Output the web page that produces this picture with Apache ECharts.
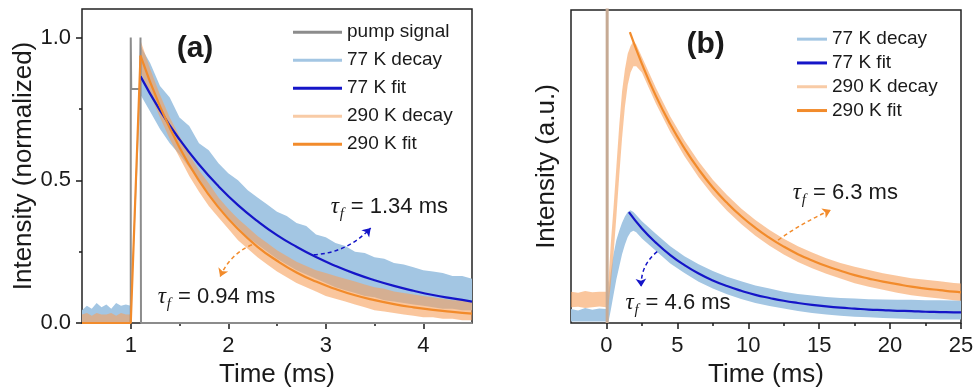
<!DOCTYPE html>
<html>
<head>
<meta charset="utf-8">
<script src="https://cdn.jsdelivr.net/npm/echarts@6/dist/echarts.min.js"></script>
<style>
  html, body { margin: 0; padding: 0; background: #fff; }
  #chart { width: 974px; height: 387px; }
</style>
</head>
<body>
<div id="chart"></div>
<script>
// ---------- Panel (a): normalized decays, 0.5 – 4.5 ms ----------
const pumpTimeA   = [0.5, 1.0, 1.0, 1.005, 1.095, 1.1, 1.105, 4.5];
const pumpSignalA = [0,   0,   1.0, 0.82,  0.82,  1.0, 0,     0];

const decayTimeA = [0.5, 0.55, 0.6, 0.65, 0.7, 0.75, 0.8, 0.85, 0.9, 0.95, 1.0,
  1.1, 1.2, 1.3, 1.4, 1.5, 1.6, 1.7, 1.8, 1.9, 2.0, 2.1, 2.2, 2.3, 2.4, 2.5,
  2.6, 2.7, 2.8, 2.9, 3.0, 3.1, 3.2, 3.3, 3.4, 3.5, 3.6, 3.7, 3.8, 3.9, 4.0,
  4.1, 4.2, 4.3, 4.4, 4.5];
const decay77LowA = [0, 0, 0, 0, 0, 0, 0, 0, 0, 0, 0,
  0.80, 0.74, 0.68, 0.63, 0.59, 0.545, 0.50, 0.455, 0.41, 0.37, 0.335, 0.30, 0.275, 0.25, 0.225,
  0.205, 0.185, 0.17, 0.155, 0.14, 0.125, 0.115, 0.105, 0.095, 0.09, 0.08, 0.075, 0.07, 0.065, 0.06,
  0.055, 0.05, 0.05, 0.045, 0.045];
const decay77HighA = [0.045, 0.06, 0.05, 0.07, 0.055, 0.065, 0.05, 0.07, 0.06, 0.065, 0.06,
  0.97, 0.91, 0.83, 0.79, 0.72, 0.69, 0.63, 0.605, 0.56, 0.525, 0.50, 0.465, 0.44, 0.415, 0.39,
  0.375, 0.35, 0.34, 0.31, 0.30, 0.28, 0.27, 0.25, 0.245, 0.23, 0.225, 0.21, 0.205, 0.195, 0.185,
  0.18, 0.175, 0.165, 0.165, 0.155];
const decay290LowA = [0, 0, 0, 0, 0, 0, 0, 0, 0, 0, 0,
  0.88, 0.80, 0.72, 0.645, 0.58, 0.515, 0.46, 0.41, 0.37, 0.33, 0.29, 0.26, 0.23, 0.205, 0.18,
  0.16, 0.14, 0.125, 0.11, 0.095, 0.085, 0.075, 0.065, 0.055, 0.045, 0.04, 0.035, 0.03, 0.025, 0.02,
  0.02, 0.015, 0.015, 0.01, 0.01];
const decay290HighA = [0.03, 0.035, 0.025, 0.035, 0.03, 0.03, 0.035, 0.025, 0.035, 0.03, 0.03,
  0.99, 0.89, 0.80, 0.72, 0.655, 0.59, 0.535, 0.49, 0.44, 0.40, 0.365, 0.335, 0.305, 0.28, 0.255,
  0.235, 0.215, 0.20, 0.185, 0.175, 0.165, 0.155, 0.145, 0.135, 0.125, 0.12, 0.11, 0.105, 0.10, 0.095,
  0.09, 0.085, 0.08, 0.08, 0.075];

const fitTimeA = [1.1, 1.3, 1.5, 1.7, 1.9, 2.1, 2.3, 2.5, 2.7, 2.9, 3.1, 3.3, 3.5, 3.7, 3.9, 4.1, 4.3, 4.5];
const fit77A   = [0.864, 0.745, 0.643, 0.555, 0.479, 0.413, 0.357, 0.308, 0.267, 0.231, 0.200, 0.173, 0.150, 0.130, 0.113, 0.098, 0.086, 0.075];
const fit290A  = [0.937, 0.759, 0.615, 0.499, 0.405, 0.329, 0.267, 0.218, 0.177, 0.145, 0.119, 0.097, 0.080, 0.066, 0.055, 0.046, 0.039, 0.033];
const riseTime290A = [0.5, 1.0, 1.1];
const rise290A     = [0,   0,   0.937];

// ---------- Panel (b): decays in arbitrary units, -2.5 – 25 ms ----------
const spikeTimeB = [0.05, 0.05];
const spikeB     = [0.0, 1.05];

const decayTimeB = [-2.5, -2, -1.5, -1, -0.5, 0,
  0.15, 0.3, 0.5, 0.7, 0.9, 1.1, 1.3, 1.5, 1.7, 1.9, 2.1, 2.5,
  3.5, 4.5, 5.5, 6.5, 7.5, 8.5, 9.5, 10.5, 11.5, 12.5, 13.5, 14.5, 15.5, 16.5,
  17.5, 18.5, 19.5, 20.5, 21.5, 22.5, 23.5, 24.5, 25];
const decay290LowB = [0.05, 0.052, 0.048, 0.05, 0.053, 0.05,
  0.06, 0.12, 0.22, 0.34, 0.47, 0.59, 0.69, 0.76, 0.80, 0.82, 0.82, 0.80,
  0.70, 0.61, 0.533, 0.466, 0.408, 0.359, 0.316, 0.279, 0.247, 0.219, 0.195, 0.175, 0.157, 0.142,
  0.127, 0.116, 0.106, 0.097, 0.089, 0.083, 0.078, 0.073, 0.071];
const decay290HighB = [0.10, 0.097, 0.102, 0.098, 0.10, 0.10,
  0.14, 0.25, 0.37, 0.50, 0.63, 0.74, 0.81, 0.86, 0.885, 0.90, 0.89, 0.85,
  0.75, 0.66, 0.583, 0.516, 0.458, 0.409, 0.366, 0.329, 0.297, 0.269, 0.245, 0.225, 0.207, 0.192,
  0.180, 0.169, 0.159, 0.151, 0.143, 0.138, 0.133, 0.128, 0.126];
const decay77LowB = [0.005, 0.005, 0.005, 0.005, 0.005, 0.005,
  0.005, 0.04, 0.09, 0.14, 0.18, 0.22, 0.25, 0.275, 0.29, 0.295, 0.29, 0.27,
  0.23, 0.19, 0.16, 0.132, 0.11, 0.092, 0.077, 0.064, 0.054, 0.046, 0.038, 0.032, 0.027, 0.023,
  0.02, 0.018, 0.016, 0.014, 0.013, 0.012, 0.011, 0.011, 0.011];
const decay77HighB = [0.045, 0.04, 0.048, 0.042, 0.046, 0.045,
  0.10, 0.16, 0.22, 0.265, 0.295, 0.32, 0.34, 0.355, 0.36, 0.355, 0.345, 0.325,
  0.284, 0.245, 0.213, 0.188, 0.166, 0.148, 0.133, 0.12, 0.11, 0.10, 0.093, 0.088, 0.083, 0.08,
  0.078, 0.076, 0.075, 0.074, 0.074, 0.073, 0.073, 0.072, 0.072];

const fitTime290B = [1.65, 2.5, 3.5, 4.5, 5.5, 6.5, 7.5, 8.5, 9.5, 10.5, 11.5, 12.5, 13.5, 14.5,
  15.5, 16.5, 17.5, 18.5, 19.5, 20.5, 21.5, 22.5, 23.5, 24.5, 25];
const fit290B = [0.929, 0.828, 0.724, 0.635, 0.558, 0.491, 0.433, 0.384, 0.341, 0.304, 0.272, 0.244, 0.220, 0.200,
  0.182, 0.167, 0.153, 0.142, 0.132, 0.124, 0.116, 0.110, 0.105, 0.100, 0.098];
const fitTime77B = [1.58, 2.5, 3.5, 4.5, 5.5, 6.5, 7.5, 8.5, 9.5, 10.5, 11.5, 12.5, 13.5, 14.5,
  15.5, 16.5, 17.5, 18.5, 19.5, 20.5, 21.5, 22.5, 23.5, 24.5, 25];
const fit77B = [0.354, 0.302, 0.256, 0.217, 0.185, 0.158, 0.136, 0.118, 0.103, 0.090, 0.080, 0.071, 0.064, 0.058,
  0.053, 0.049, 0.046, 0.043, 0.041, 0.039, 0.038, 0.036, 0.035, 0.034, 0.034];

// tick positions
const majorTicksA = [1, 2, 3, 4];
const minorTicksA = [1.5, 2.5, 3.5];
const yTicksA = [0, 0.5, 1.0];
const yMinorTicksA = [0.25, 0.75];
const majorTicksB = [0, 5, 10, 15, 20, 25];
const minorTicksB = [2.5, 7.5, 12.5, 17.5, 22.5];

// lifetime annotations and panel tags, in data coordinates
const tauNotes = [
  { axes: 0, at: [3.05, 0.407], text: ' = 1.34 ms' },
  { axes: 0, at: [1.278, 0.091], text: ' = 0.94 ms' },
  { axes: 2, at: [13.14, 0.415], text: ' = 6.3 ms' },
  { axes: 2, at: [1.34, 0.064], text: ' = 4.6 ms' }
];
const panelTags = [
  { axes: 0, at: [1.659, 0.962], text: '(a)' },
  { axes: 2, at: [6.99, 0.89], text: '(b)' }
];

const FONT = '"Liberation Sans", Arial, sans-serif';
const SERIF = '"Liberation Serif", "Times New Roman", serif';
const INK = '#1a1a1a';
const COLORS = {
  pump: '#8c8c8c',
  band77: '#a3c6e3',
  fit77: '#1515c8',
  band290: 'rgba(246,160,92,0.6)',
  band290Icon: '#f8cba6',
  fit290: '#f28b2b',
  spike: '#c6aa94'
};

const zip = (t, ...cols) => t.map((x, i) => [x, ...cols.map(c => c[i])]);

// filled band between a lower and an upper trace
function band(name, axes, time, lo, hi, fill, icon) {
  return {
    type: 'custom', name, xAxisIndex: axes, yAxisIndex: axes, clip: true, silent: true,
    data: zip(time, lo, hi),
    encode: { x: 0, y: [1, 2] },
    itemStyle: { color: icon },
    renderItem(params, api) {
      if (params.dataIndexInside !== 0) return null;
      const n = params.dataInsideLength;
      const top = [], bottom = [];
      for (let i = 0; i < n; i++) {
        const x = api.value(0, i);
        top.push(api.coord([x, api.value(2, i)]));
        bottom.push(api.coord([x, api.value(1, i)]));
      }
      return { type: 'polygon', shape: { points: top.concat(bottom.reverse()) }, style: { fill } };
    }
  };
}

function curve(name, axes, time, vals, color, width, smooth) {
  return {
    type: 'line', name, xAxisIndex: axes, yAxisIndex: axes, silent: true,
    data: zip(time, vals), symbol: 'none', smooth: smooth,
    lineStyle: { color, width }, itemStyle: { color }
  };
}

function arrow(axes, from, to, color, curveness) {
  return {
    type: 'lines', coordinateSystem: 'cartesian2d', xAxisIndex: axes, yAxisIndex: axes, silent: true,
    symbol: ['none', 'arrow'], symbolSize: 8,
    lineStyle: { color, width: 1.5, type: [4, 3], curveness, opacity: 1 },
    data: [{ coords: [from, to] }]
  };
}

const tickStyle = { color: INK, width: 1.5 };
const labelStyle = { color: INK, fontSize: 22, fontFamily: FONT };
const nameStyle = { color: INK, fontSize: 26, fontFamily: FONT };

function xMain(grid, min, max, ticks, name) {
  return {
    type: 'value', gridIndex: grid, min, max, position: 'bottom',
    axisLine: { show: false }, splitLine: { show: false },
    axisTick: { show: true, customValues: ticks, length: 6, lineStyle: tickStyle },
    axisLabel: { customValues: ticks, margin: 12, ...labelStyle },
    name, nameLocation: 'middle', nameGap: 38, nameTextStyle: nameStyle
  };
}
function xMinor(grid, min, max, ticks) {
  return {
    type: 'value', gridIndex: grid, min, max, position: 'bottom',
    axisLine: { show: false }, splitLine: { show: false }, axisLabel: { show: false },
    axisTick: { show: true, customValues: ticks, length: 3, lineStyle: tickStyle }
  };
}

const gridBase = { show: true, borderColor: '#222', borderWidth: 1.5, backgroundColor: 'transparent', outerBoundsMode: 'none', containLabel: false };

const option = {
  animation: false,
  backgroundColor: '#fff',
  grid: [
    { ...gridBase, left: 82, top: 9, width: 390, height: 314 },
    { ...gridBase, left: 571, top: 10, width: 390, height: 313 }
  ],
  xAxis: [
    xMain(0, 0.5, 4.5, majorTicksA, 'Time (ms)'),
    xMinor(0, 0.5, 4.5, minorTicksA),
    xMain(1, -2.5, 25, majorTicksB, 'Time (ms)'),
    xMinor(1, -2.5, 25, minorTicksB)
  ],
  yAxis: [
    {
      type: 'value', gridIndex: 0, min: 0, max: 1.1, position: 'left',
      axisLine: { show: false }, splitLine: { show: false },
      axisTick: { show: true, customValues: yTicksA, length: 6, lineStyle: tickStyle },
      axisLabel: { customValues: yTicksA, margin: 11, formatter: v => v.toFixed(1), ...labelStyle },
      name: 'Intensity (normalized)', nameLocation: 'middle', nameGap: 43, nameTextStyle: nameStyle
    },
    {
      type: 'value', gridIndex: 0, min: 0, max: 1.1, position: 'left',
      axisLine: { show: false }, splitLine: { show: false }, axisLabel: { show: false },
      axisTick: { show: true, customValues: yMinorTicksA, length: 3, lineStyle: tickStyle }
    },
    {
      type: 'value', gridIndex: 1, min: 0, max: 1, position: 'left',
      axisLine: { show: false }, splitLine: { show: false }, axisLabel: { show: false }, axisTick: { show: false },
      name: 'Intensity (a.u.)', nameLocation: 'middle', nameGap: 11, nameTextStyle: nameStyle
    },
    {
      type: 'value', gridIndex: 1, min: 0, max: 1, show: false
    }
  ],
  legend: [
    {
      orient: 'vertical', left: 293, top: 21, itemWidth: 49, itemHeight: 3, itemGap: 5.5,
      selectedMode: false, padding: 0,
      textStyle: { color: INK, fontSize: 19, lineHeight: 22.5, fontFamily: FONT },
      data: [
        { name: 'pump signal', icon: 'rect', itemStyle: { color: COLORS.pump } },
        { name: '77 K decay', icon: 'rect', itemStyle: { color: COLORS.band77 } },
        { name: '77 K fit', icon: 'rect', itemStyle: { color: COLORS.fit77 } },
        { name: '290 K decay', icon: 'rect', itemStyle: { color: COLORS.band290Icon } },
        { name: '290 K fit', icon: 'rect', itemStyle: { color: COLORS.fit290 } }
      ]
    },
    {
      orient: 'vertical', left: 797, top: 29, itemWidth: 30, itemHeight: 3, itemGap: 3.5,
      selectedMode: false, padding: 0,
      textStyle: { color: INK, fontSize: 19, lineHeight: 20.3, fontFamily: FONT },
      data: [
        { name: '77 K decay', icon: 'rect', itemStyle: { color: COLORS.band77 } },
        { name: '77 K fit', icon: 'rect', itemStyle: { color: COLORS.fit77 } },
        { name: '290 K decay', icon: 'rect', itemStyle: { color: COLORS.band290Icon } },
        { name: '290 K fit', icon: 'rect', itemStyle: { color: COLORS.fit290 } }
      ]
    }
  ],
  series: [
    // panel (a)
    band('77 K decay', 0, decayTimeA, decay77LowA, decay77HighA, COLORS.band77, COLORS.band77),
    band('290 K decay', 0, decayTimeA, decay290LowA, decay290HighA, COLORS.band290, COLORS.band290Icon),
    curve('pump signal', 0, pumpTimeA, pumpSignalA, COLORS.pump, 2, false),
    curve('77 K fit', 0, fitTimeA, fit77A, COLORS.fit77, 2.2, true),
    curve('290 K fit', 0, riseTime290A, rise290A, COLORS.fit290, 2.2, false),
    curve('290 K fit', 0, fitTimeA, fit290A, COLORS.fit290, 2.2, true),
    arrow(0, [2.877, 0.239], [3.461, 0.333], COLORS.fit77, -0.2),
    arrow(0, [2.243, 0.274], [1.917, 0.162], COLORS.fit290, -0.2),
    // panel (b)
    band('77 K decay', 2, decayTimeB, decay77LowB, decay77HighB, COLORS.band77, COLORS.band77),
    band('290 K decay', 2, decayTimeB, decay290LowB, decay290HighB, COLORS.band290, COLORS.band290Icon),
    curve('excitation', 2, spikeTimeB, spikeB, COLORS.spike, 3, false),
    curve('77 K fit', 2, fitTime77B, fit77B, COLORS.fit77, 2.2, true),
    curve('290 K fit', 2, fitTime290B, fit290B, COLORS.fit290, 2.2, true),
    arrow(2, [12.1, 0.265], [15.82, 0.361], COLORS.fit290, 0.05),
    arrow(2, [3.58, 0.228], [2.45, 0.116], COLORS.fit77, -0.25)
  ]
};

const chart = echarts.init(document.getElementById('chart'), null, { renderer: 'canvas' });
chart.setOption(option);

// text annotations anchored to data coordinates
const toPx = (axes, p) => chart.convertToPixel({ xAxisIndex: axes, yAxisIndex: axes }, p);
const graphics = [];
tauNotes.forEach(n => {
  const [x, y] = toPx(n.axes, n.at);
  graphics.push({
    type: 'group', x, y, silent: true,
    children: [
      { type: 'text', x: 0, y: 0, style: { text: 'τ', fill: INK, fontSize: 23, fontFamily: SERIF, fontStyle: 'italic', align: 'left', verticalAlign: 'middle' } },
      { type: 'text', x: 9, y: 7, style: { text: 'f', fill: INK, fontSize: 15, fontFamily: SERIF, fontStyle: 'italic', align: 'left', verticalAlign: 'middle' } },
      { type: 'text', x: 14, y: 0, style: { text: n.text, fill: INK, fontSize: 22, fontFamily: FONT, align: 'left', verticalAlign: 'middle' } }
    ]
  });
});
panelTags.forEach(t => {
  const [x, y] = toPx(t.axes, t.at);
  graphics.push({
    type: 'text', x, y, silent: true,
    style: { text: t.text, fill: INK, fontSize: 30, fontWeight: 'bold', fontFamily: FONT, align: 'center', verticalAlign: 'middle' }
  });
});
chart.setOption({ graphic: graphics });
</script>
</body>
</html>
